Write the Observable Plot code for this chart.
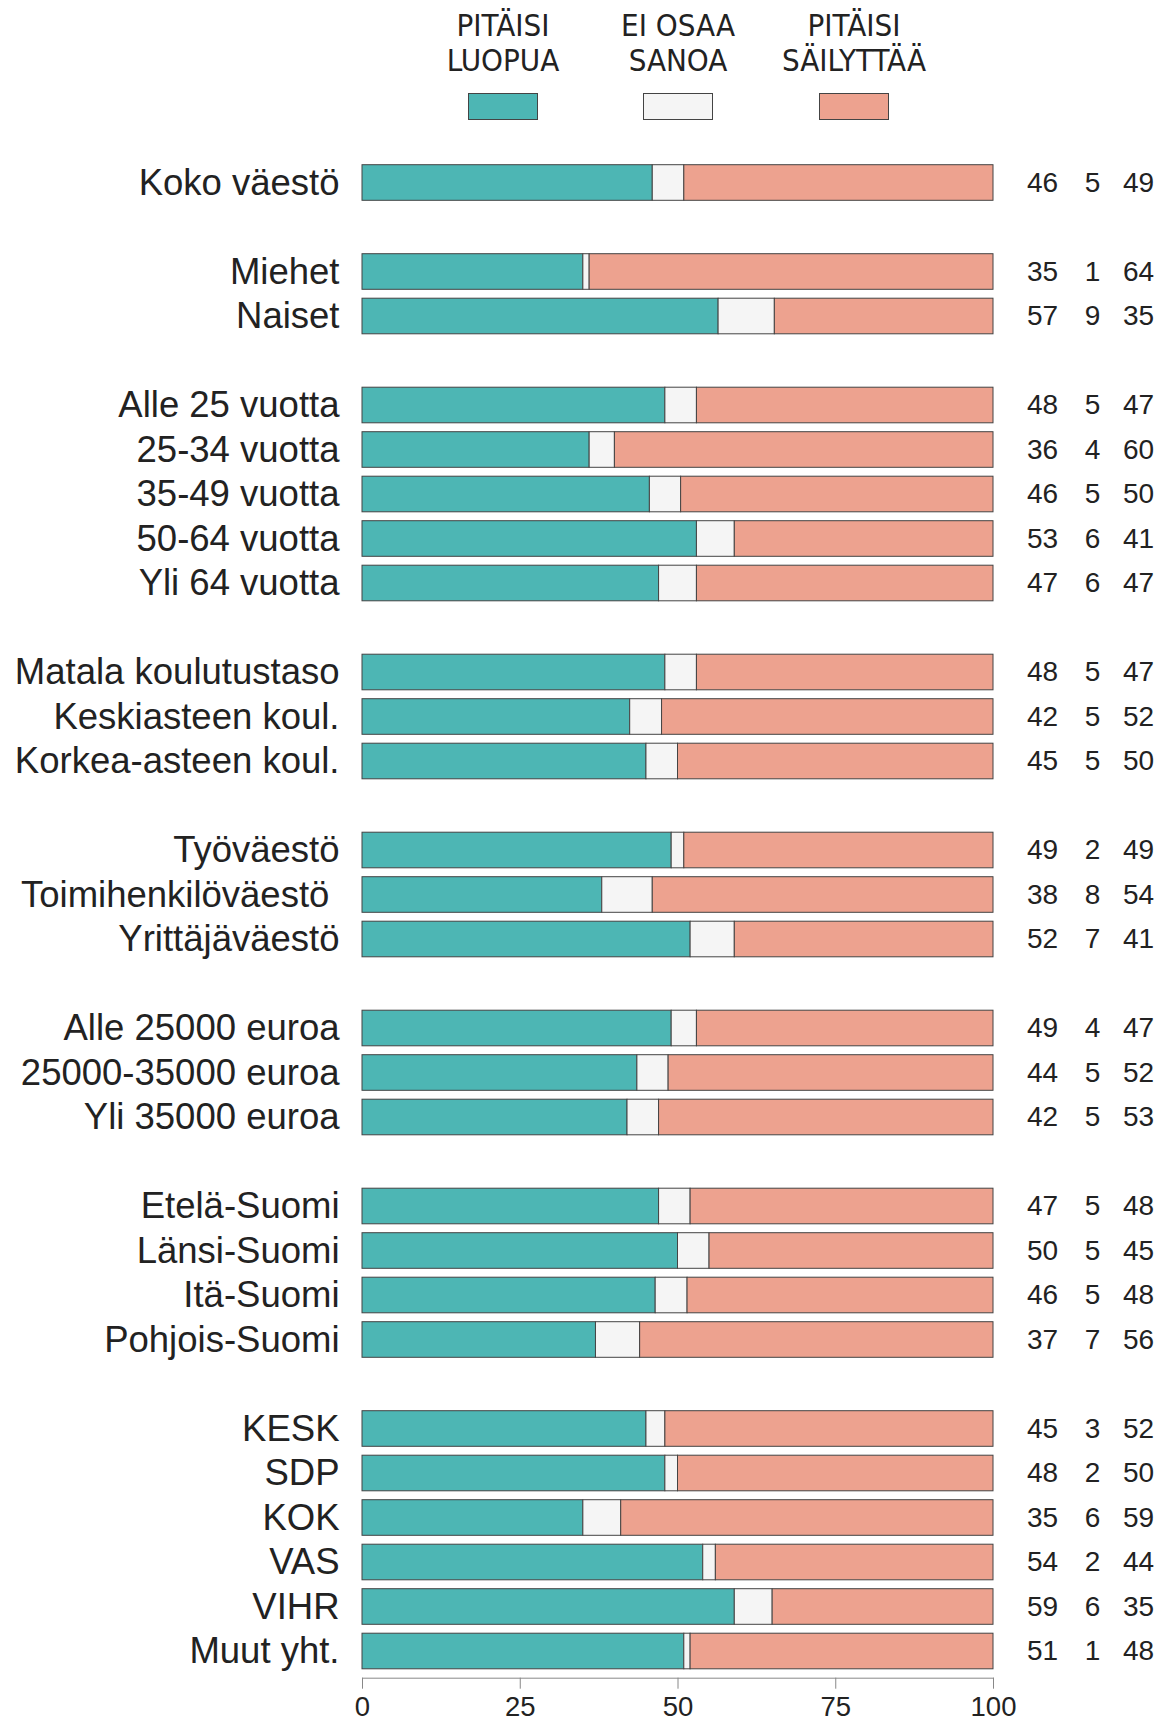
<!DOCTYPE html>
<html>
<head>
<meta charset="utf-8">
<script src="https://cdn.jsdelivr.net/npm/d3@7"></script>
<script src="https://cdn.jsdelivr.net/npm/@observablehq/plot@0.6"></script>
<style>
  html, body { margin: 0; padding: 0; background: #fff; }
  #wrap { width: 1167px; }
  #legend { position: relative; width: 1167px; height: 130px; font-family: "Liberation Sans Narrow", "Arial Narrow", "DejaVu Sans Condensed", sans-serif; font-stretch: condensed; color: #222; }
  .item { position: absolute; top: 8px; width: 200px; margin-left: -100px; text-align: center; font-size: 31px; line-height: 35px; }
  .sw { width: 68px; height: 25px; margin: 15px auto 0 auto; border: 1px solid #444; }
  #chart svg { display: block; }
</style>
</head>
<body>
<div id="wrap">
  <div id="legend"></div>
  <div id="chart"></div>
</div>
<script>
const categories = [
  "Koko väestö",
  "Miehet", "Naiset",
  "Alle 25 vuotta", "25-34 vuotta", "35-49 vuotta", "50-64 vuotta", "Yli 64 vuotta",
  "Matala koulutustaso", "Keskiasteen koul.", "Korkea-asteen koul.",
  "Työväestö", "Toimihenkilöväestö\u00a0", "Yrittäjäväestö",
  "Alle 25000 euroa", "25000-35000 euroa", "Yli 35000 euroa",
  "Etelä-Suomi", "Länsi-Suomi", "Itä-Suomi", "Pohjois-Suomi",
  "KESK", "SDP", "KOK", "VAS", "VIHR", "Muut yht."
];
const luopua    = [46, 35, 57, 48, 36, 46, 53, 47, 48, 42, 45, 49, 38, 52, 49, 44, 42, 47, 50, 46, 37, 45, 48, 35, 54, 59, 51];
const eos       = [ 5,  1,  9,  5,  4,  5,  6,  6,  5,  5,  5,  2,  8,  7,  4,  5,  5,  5,  5,  5,  7,  3,  2,  6,  2,  6,  1];
const sailyttaa = [49, 64, 35, 47, 60, 50, 41, 47, 47, 52, 50, 49, 54, 41, 47, 52, 53, 48, 45, 48, 56, 52, 50, 59, 44, 35, 48];
// index of last category in each group (a blank row follows it)
const groupEnds = [0, 2, 7, 10, 13, 16, 20];

const seriesNames = ["PITÄISI LUOPUA", "EI OSAA SANOA", "PITÄISI SÄILYTTÄÄ"];
const seriesLines = [["PITÄISI", "LUOPUA"], ["EI OSAA", "SANOA"], ["PITÄISI", "SÄILYTTÄÄ"]];
const colors = ["#4DB6B4", "#F5F5F5", "#EDA28F"];
const xTicks = [0, 25, 50, 75, 100];

// y domain with blank rows between groups
const yDomain = [];
categories.forEach((c, i) => {
  yDomain.push(c);
  if (groupEnds.includes(i)) yDomain.push("_gap" + i);
});

const rows = categories.map((c, i) => ({category: c, luopua: luopua[i], eos: eos[i], sailyttaa: sailyttaa[i]}));
const long = [];
rows.forEach(r => {
  long.push({category: r.category, series: seriesNames[0], value: r.luopua});
  long.push({category: r.category, series: seriesNames[1], value: r.eos});
  long.push({category: r.category, series: seriesNames[2], value: r.sailyttaa});
});

// legend (HTML)
const legend = document.getElementById("legend");
const legendCenters = [503, 678, 854];
seriesLines.forEach((lines, i) => {
  const d = document.createElement("div");
  d.className = "item";
  d.style.left = legendCenters[i] + "px";
  d.innerHTML = lines.join("<br>") + `<div class="sw" style="background:${colors[i]}"></div>`;
  legend.appendChild(d);
});

const chart = Plot.plot({
  width: 1167,
  height: 1592,
  marginLeft: 362,
  marginRight: 174,
  marginTop: 25.8,
  marginBottom: 44.3,
  style: {fontFamily: "'Liberation Sans', Arial, Helvetica, sans-serif", color: "#222", background: "#fff"},
  x: {domain: [0, 1], axis: null, label: null},
  y: {domain: yDomain, padding: 0.2, round: false, axis: null, label: null},
  color: {domain: seriesNames, range: colors},
  marks: [
    Plot.barX(long, Plot.stackX({
      y: "category", x: "value", fill: "series", order: seriesNames, offset: "normalize",
      stroke: "#444", strokeWidth: 1
    })),
    Plot.axisY({
      tickSize: 0, tickPadding: 23, fontSize: 36.5, label: null,
      tickFormat: d => d.startsWith("_gap") ? "" : d
    }),
    Plot.frame({anchor: "bottom", stroke: "#888"}),
    Plot.axisX({
      ticks: xTicks.map(t => t / 100), tickFormat: d => String(Math.round(d * 100)),
      tickSize: 11, tickPadding: 7, fontSize: 27.5, stroke: "#888", color: "#222", label: null
    }),
    Plot.text(rows, {y: "category", text: "luopua", frameAnchor: "right", dx: 49, textAnchor: "middle", fontSize: 28, fill: "#222"}),
    Plot.text(rows, {y: "category", text: "eos", frameAnchor: "right", dx: 99, textAnchor: "middle", fontSize: 28, fill: "#222"}),
    Plot.text(rows, {y: "category", text: "sailyttaa", frameAnchor: "right", dx: 145, textAnchor: "middle", fontSize: 28, fill: "#222"})
  ]
});
document.getElementById("chart").appendChild(chart);
</script>
</body>
</html>
